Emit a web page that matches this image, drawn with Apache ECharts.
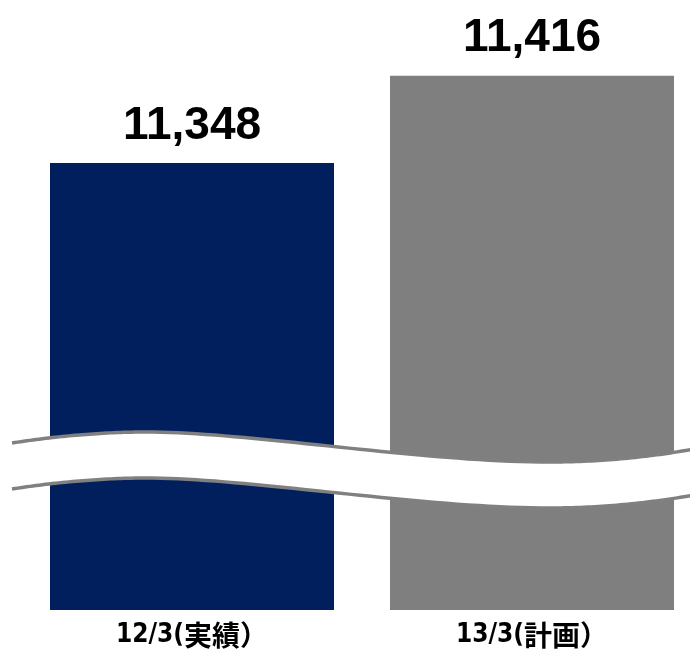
<!DOCTYPE html>
<html>
<head>
<meta charset="utf-8">
<script src="https://cdn.jsdelivr.net/npm/echarts@6/dist/echarts.min.js"></script>
<style>
  html, body { margin: 0; padding: 0; background: #ffffff; }
  #chart { width: 690px; height: 649px; }
</style>
</head>
<body>
<div id="chart"></div>
<script>
// Fiscal periods and their totals
const categories = ['12/3(実績）', '13/3(計画）'];
const values = [11348, 11416];
const barColors = ['#001F5C', '#7F7F7F'];

// Value axis starts above zero; the wave band marks the omitted range
const axisMin = 11000;
const axisMax = 11475;

// Horizontal placement: slot index on a numeric axis so the bars can sit
// closer to the right edge than a category band would allow
const slotMin = -192 / 340;
const slotMax = 498 / 340;

const chart = echarts.init(document.getElementById('chart'), null, { renderer: 'canvas' });

function withCommas(n) {
  return String(n).replace(/\B(?=(\d{3})+(?!\d))/g, ',');
}

// Split a period label into its ASCII head and CJK tail for mixed styling
function periodLabel(text) {
  const m = text.match(/^([\x20-\x7e]*)([^）]*)(）?)$/);
  if (!m) return text;
  return '{a|' + m[1] + '}{b|' + m[2] + '}{b|' + m[3] + '}';
}

// Wave outline: chained cubic segments [start, cp1, cp2, end]
const waveSegments = [
  [[12, 443], [50, 437], [100, 432], [145, 432]],
  [[145, 432], [250, 432], [420, 462], [550, 462]],
  [[550, 462], [600, 462], [650, 457], [694, 449]]
];
const waveGap = 46;

function sampleWave(offset) {
  const pts = [];
  waveSegments.forEach((seg, si) => {
    const steps = 40;
    for (let k = si === 0 ? 0 : 1; k <= steps; k++) {
      const t = k / steps, u = 1 - t;
      const x = u*u*u*seg[0][0] + 3*u*u*t*seg[1][0] + 3*u*t*t*seg[2][0] + t*t*t*seg[3][0];
      const y = u*u*u*seg[0][1] + 3*u*u*t*seg[1][1] + 3*u*t*t*seg[2][1] + t*t*t*seg[3][1];
      pts.push([x, y + offset]);
    }
  });
  return pts;
}

const upperPts = sampleWave(0);
const lowerPts = sampleWave(waveGap);
const bandPts = upperPts.concat(lowerPts.slice().reverse());

chart.setOption({
  animation: false,
  backgroundColor: '#ffffff',
  grid: { left: 0, right: 0, top: 0, bottom: 37, containLabel: false },
  xAxis: {
    type: 'value',
    min: slotMin,
    max: slotMax,
    splitLine: { show: false },
    axisLine: { show: false },
    axisTick: { show: false },
    axisLabel: {
      customValues: [0, 1],
      margin: 11,
      formatter: v => periodLabel(categories[Math.round(v)]),
      color: '#000000',
      rich: {
        a: {
          fontFamily: '"Liberation Sans Narrow", "DejaVu Sans Condensed", sans-serif',
          fontWeight: 'bold',
          fontSize: 26,
          color: '#000000'
        },
        b: {
          fontFamily: '"Noto Sans CJK JP", sans-serif',
          fontWeight: 'bold',
          fontSize: 28,
          color: '#000000'
        }
      }
    }
  },
  yAxis: {
    type: 'value',
    min: axisMin,
    max: axisMax,
    show: false,
    splitLine: { show: false }
  },
  series: [{
    type: 'bar',
    barWidth: 284,
    data: values.map((v, i) => ({ value: [i, v], itemStyle: { color: barColors[i] } })),
    label: {
      show: true,
      position: 'top',
      distance: 14,
      formatter: p => withCommas(p.value[1]),
      fontFamily: '"Liberation Sans", Arial, sans-serif',
      fontWeight: 'bold',
      fontSize: 46,
      color: '#000000'
    }
  }],
  graphic: [
    {
      type: 'polygon',
      z: 100,
      shape: { points: bandPts },
      style: { fill: '#ffffff' }
    },
    {
      type: 'polyline',
      z: 101,
      shape: { points: upperPts },
      style: { fill: null, stroke: '#808080', lineWidth: 3.5 }
    },
    {
      type: 'polyline',
      z: 101,
      shape: { points: lowerPts },
      style: { fill: null, stroke: '#808080', lineWidth: 3.5 }
    }
  ]
});
</script>
</body>
</html>
